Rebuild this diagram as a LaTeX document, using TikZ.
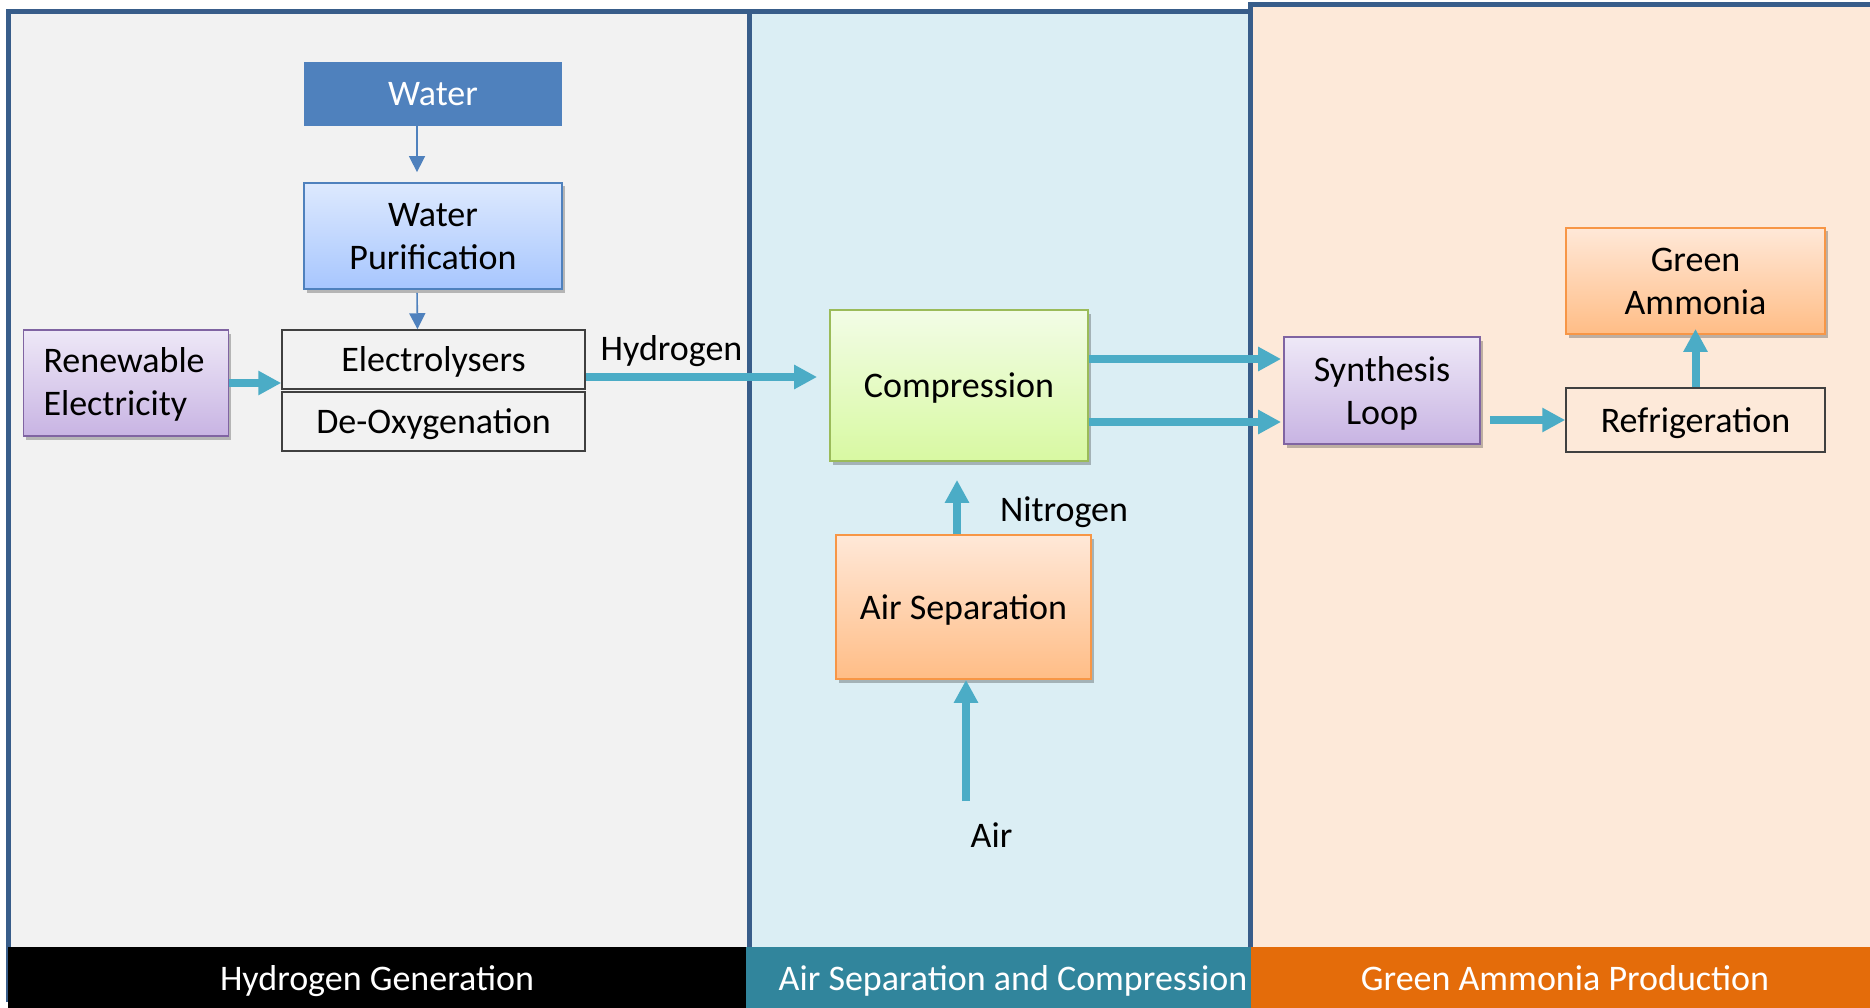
\documentclass[tikz,border=0pt]{standalone}
\usepackage{fontspec}
\setmainfont{Carlito}
\usetikzlibrary{arrows.meta,shadows,calc}
\definecolor{edgeblue}{HTML}{385D8A}
\definecolor{pone}{HTML}{F2F2F2}
\definecolor{ptwo}{HTML}{DBEEF4}
\definecolor{pthree}{HTML}{FDE9D9}
\definecolor{bartwo}{HTML}{31859C}
\definecolor{barthree}{HTML}{E46C0A}
\definecolor{waterblue}{HTML}{4F81BD}
\definecolor{bluetop}{HTML}{DDE9FE}
\definecolor{bluebot}{HTML}{A7C6FE}
\definecolor{purptop}{HTML}{EEE8F7}
\definecolor{purpbot}{HTML}{C8B4E3}
\definecolor{purpedge}{HTML}{8064A2}
\definecolor{greentop}{HTML}{F2FCE6}
\definecolor{greenbot}{HTML}{D8F9A2}
\definecolor{greenedge}{HTML}{9BBB59}
\definecolor{orgtop}{HTML}{FFE8D8}
\definecolor{orgbot}{HTML}{FFBD86}
\definecolor{orgedge}{HTML}{F79646}
\definecolor{tealarrow}{HTML}{4BACC6}
\definecolor{plainedge}{HTML}{404040}
\tikzset{
  every node/.style={font=\fontsize{36}{43}\selectfont, inner sep=0pt, align=center},
  boxbase/.style={text depth=0pt},
  panel/.style={draw=edgeblue, line width=5pt},
  shad/.style={drop shadow={shadow xshift=2.5pt, shadow yshift=-3.5pt, opacity=0.25, fill=black}},
  waterbox/.style={boxbase, fill=waterblue, text=white},
  bluebox/.style={boxbase, shad, draw=waterblue, line width=1.8pt, top color=bluetop, bottom color=bluebot},
  purpbox/.style={boxbase, shad, draw=purpedge, line width=1.8pt, top color=purptop, bottom color=purpbot},
  greenbox/.style={boxbase, shad, draw=greenedge, line width=1.8pt, top color=greentop, bottom color=greenbot},
  orgbox/.style={boxbase, shad, draw=orgedge, line width=1.8pt, top color=orgtop, bottom color=orgbot},
  plainbox/.style={boxbase, draw=plainedge, line width=1.5pt},
  thinarrow/.style={draw=waterblue, line width=1.6pt, -{Triangle[length=16pt,width=16pt]}},
  fatarrow/.style={draw=tealarrow, line width=8pt, -{Triangle[length=23pt,width=23pt]}},
  barlabel/.style={text=white, anchor=base},
  flowlabel/.style={anchor=base}
}
\begin{document}
\begin{tikzpicture}[x=1pt,y=-1pt]
\useasboundingbox (0,0) rectangle (1870,1008);
\clip (0,0) rectangle (1870,1008);
% panels
\fill[pone] (8.5,11.5) rectangle (749,1002);
\fill[ptwo] (749,11.5) rectangle (1250.5,1002);
\fill[pthree] (1250.5,4.5) rectangle (1890,1002);
\draw[panel] (8.5,1002) -- (8.5,11.5) -- (749,11.5) -- (749,1002);
\draw[panel] (749,11.5) -- (1250.5,11.5);
\draw[panel] (1250.5,1002) -- (1250.5,4.5) -- (1890,4.5);
% bottom bars
\fill[black] (8,947) rectangle (746,1008);
\fill[bartwo] (746,947) rectangle (1251,1008);
\fill[barthree] (1251,947) rectangle (1870,1008);
\node[barlabel] (lblh) at (377,990) {Hydrogen Generation};
\node[barlabel] (lbla) at (1013,990) {Air Separation and Compression};
\node[barlabel] (lblg) at (1565,990) {Green Ammonia Production};
% boxes
\node[waterbox, minimum width=258pt, minimum height=64pt] (water) at (433,94) {Water};
\node[bluebox, minimum width=258pt, minimum height=106pt] (purif) at (433,236) {Water\\Purification};
\node[plainbox, minimum width=303pt, minimum height=59pt] (elec) at (433.5,359.5) {Electrolysers};
\node[plainbox, minimum width=303pt, minimum height=59pt] (deox) at (433.5,421.5) {De-Oxygenation};
\node[purpbox, minimum width=205pt, minimum height=106pt, text width=165pt, align=left, text depth=45pt] (renew) at (126,383) {Renewable\\Electricity};
\node[greenbox, minimum width=258pt, minimum height=151pt] (comp) at (959,385.5) {Compression};
\node[orgbox, minimum width=255pt, minimum height=144pt] (airsep) at (963.5,607) {Air Separation};
\node[purpbox, minimum width=196pt, minimum height=107pt] (syn) at (1382,390.5) {Synthesis\\Loop};
\node[plainbox, minimum width=259pt, minimum height=64pt] (refrig) at (1695.5,420) {Refrigeration};
\node[orgbox, minimum width=259pt, minimum height=106pt] (ga) at (1695.5,281) {Green\\Ammonia};
% labels
\node[flowlabel] (hlbl) at (671.5,360) {Hydrogen};
\node[flowlabel] (nlbl) at (1064,521) {Nitrogen};
\node[flowlabel] (albl) at (991.5,847) {Air};
\coordinate (airin) at (966,801);
% arrows
\draw[thinarrow, shorten >=10pt] ([xshift=-16pt]water.south) -- ([xshift=-16pt]purif.north);
\draw[thinarrow, shorten <=3pt] ([xshift=-16pt]purif.south) -- ([xshift=-16pt]elec.north);
\draw[fatarrow] (renew.east) -- (renew.east -| elec.west);
\draw[fatarrow, shorten >=12pt] ([yshift=-17.5pt]elec.east) -- ([yshift=-17.5pt]elec.east -| comp.west);
\draw[fatarrow, shorten >=2pt] ([yshift=26.5pt]comp.east) -- ([yshift=26.5pt]comp.east -| syn.west);
\draw[fatarrow, shorten >=2pt] ([yshift=-36.5pt]comp.east) -- ([yshift=-36.5pt]comp.east -| syn.west);
\draw[fatarrow, shorten <=9pt] (refrig.west -| syn.east) -- (refrig.west);
\draw[fatarrow, shorten >=-6pt] (refrig.north) -- (ga.south);
\draw[fatarrow, shorten >=18pt] ([xshift=-6.5pt]airsep.north) -- ([xshift=-6.5pt]airsep.north |- comp.south);
\draw[fatarrow] (airin) -- (airin |- airsep.south);
\end{tikzpicture}
\end{document}
